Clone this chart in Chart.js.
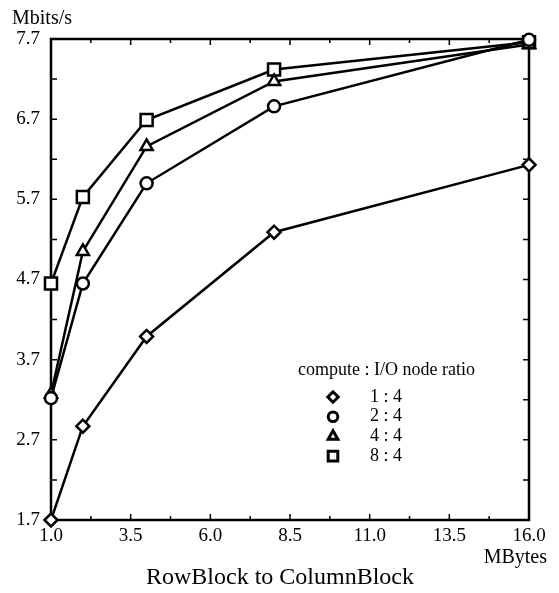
<!DOCTYPE html>
<html>
<head>
<meta charset="utf-8">
<script src="https://cdn.jsdelivr.net/npm/chart.js@4.4.1/dist/chart.umd.min.js"></script>
<style>
  html, body { margin: 0; padding: 0; background: #fff; }
  #wrap { width: 559px; height: 593px; }
</style>
</head>
<body>
<div id="wrap"><canvas id="chart" width="559" height="593"></canvas></div>
<script>
// Message size (MBytes) on x, throughput (Mbits/s) per compute:I/O ratio
const sizes = [1, 2, 4, 8, 16];
const ratio14 = [1.70, 2.87, 3.99, 5.29, 6.13];
const ratio24 = [3.22, 4.65, 5.90, 6.86, 7.69];
const ratio44 = [3.27, 5.05, 6.36, 7.17, 7.63];
const ratio84 = [4.65, 5.73, 6.69, 7.32, 7.66];
const seriesLabels = ["1 : 4", "2 : 4", "4 : 4", "8 : 4"];
const xTicks = [1.0, 3.5, 6.0, 8.5, 11.0, 13.5, 16.0];
const yTicks = [1.7, 2.7, 3.7, 4.7, 5.7, 6.7, 7.7];

const SERIF = "'Liberation Serif', 'DejaVu Serif', serif";

const pointStyles = ["rectRot", "circle", "triangle", "rect"];
const pointSizes = [6.5, 6, 7, 8.5];

function makeSet(values, i) {
  return {
    label: seriesLabels[i],
    data: sizes.map((x, j) => ({ x: x, y: values[j] })),
    borderColor: "#000",
    borderWidth: 2.5,
    backgroundColor: "#fff",
    pointStyle: pointStyles[i],
    pointRadius: pointSizes[i],
    pointBorderWidth: 2.5,
    pointBackgroundColor: "#fff",
    pointBorderColor: "#000",
    tension: 0,
    clip: false,
  };
}

// frame with inward ticks on all four sides, plus the free-standing texts
const framePlugin = {
  id: "frame",
  beforeDatasetsDraw(chart) {
    const ctx = chart.ctx;
    const a = chart.chartArea;
    const xs = chart.scales.x;
    const ys = chart.scales.y;
    ctx.save();
    ctx.strokeStyle = "#000";
    ctx.lineWidth = 2.5;
    ctx.strokeRect(a.left, a.top, a.right - a.left, a.bottom - a.top);

    ctx.lineWidth = 1.5;
    const tickX = (v, len) => {
      const px = xs.getPixelForValue(v);
      ctx.beginPath();
      ctx.moveTo(px, a.bottom); ctx.lineTo(px, a.bottom - len);
      ctx.moveTo(px, a.top); ctx.lineTo(px, a.top + len);
      ctx.stroke();
    };
    const tickY = (v, len) => {
      const py = ys.getPixelForValue(v);
      ctx.beginPath();
      ctx.moveTo(a.left, py); ctx.lineTo(a.left + len, py);
      ctx.moveTo(a.right, py); ctx.lineTo(a.right - len, py);
      ctx.stroke();
    };
    xTicks.forEach((v, i) => {
      tickX(v, 6);
      if (i > 0) tickX((v + xTicks[i - 1]) / 2, 4);
    });
    yTicks.forEach((v, i) => {
      tickY(v, 6);
      if (i > 0) tickY((v + yTicks[i - 1]) / 2, 6);
    });
    ctx.restore();
  },
  afterDraw(chart) {
    const ctx = chart.ctx;
    ctx.save();
    ctx.fillStyle = "#000";
    ctx.textBaseline = "middle";

    ctx.font = "20px " + SERIF;
    ctx.textAlign = "left";
    ctx.fillText("Mbits/s", 12, 19);
    ctx.textAlign = "right";
    ctx.fillText("MBytes", 547, 558);

    ctx.font = "24px " + SERIF;
    ctx.textAlign = "center";
    ctx.fillText("RowBlock to ColumnBlock", 280, 578);

    // legend
    ctx.font = "18px " + SERIF;
    ctx.textAlign = "left";
    ctx.fillText("compute : I/O node ratio", 298, 370);
    ctx.strokeStyle = "#000";
    ctx.textAlign = "center";
    seriesLabels.forEach((lab, i) => {
      const y = 397 + i * 19.7;
      ctx.fillStyle = "#fff";
      ctx.lineWidth = 3;
      Chart.helpers.drawPoint(ctx, {
        pointStyle: pointStyles[i],
        radius: pointSizes[i] * 0.8,
        rotation: 0,
        borderWidth: 3,
      }, 333, y);
      ctx.fillStyle = "#000";
      ctx.fillText(lab, 386, y);
    });
    ctx.restore();
  },
};

new Chart(document.getElementById("chart"), {
  type: "line",
  data: {
    datasets: [
      makeSet(ratio14, 0),
      makeSet(ratio24, 1),
      makeSet(ratio44, 2),
      makeSet(ratio84, 3),
    ],
  },
  options: {
    responsive: false,
    animation: false,
    layout: { padding: { left: 0, top: 39, right: 30, bottom: 0 } },
    plugins: {
      legend: { display: false },
      tooltip: { enabled: false },
    },
    scales: {
      x: {
        type: "linear",
        min: 1,
        max: 16,
        grid: { display: false, drawTicks: false },
        border: { display: false },
        afterBuildTicks: (s) => { s.ticks = xTicks.map((v) => ({ value: v })); },
        afterFit: (s) => { s.height = 73; },
        ticks: {
          padding: 5,
          color: "#000",
          font: { family: SERIF, size: 19 },
          maxRotation: 0,
          autoSkip: false,
          callback: (v) => Number(v).toFixed(1),
        },
      },
      y: {
        min: 1.7,
        max: 7.7,
        grid: { display: false, drawTicks: false },
        border: { display: false },
        afterBuildTicks: (s) => { s.ticks = yTicks.map((v) => ({ value: v })); },
        afterFit: (s) => { s.width = 51; },
        ticks: {
          padding: 11,
          color: "#000",
          font: { family: SERIF, size: 19 },
          autoSkip: false,
          callback: (v) => Number(v).toFixed(1),
        },
      },
    },
  },
  plugins: [framePlugin],
});
</script>
</body>
</html>
